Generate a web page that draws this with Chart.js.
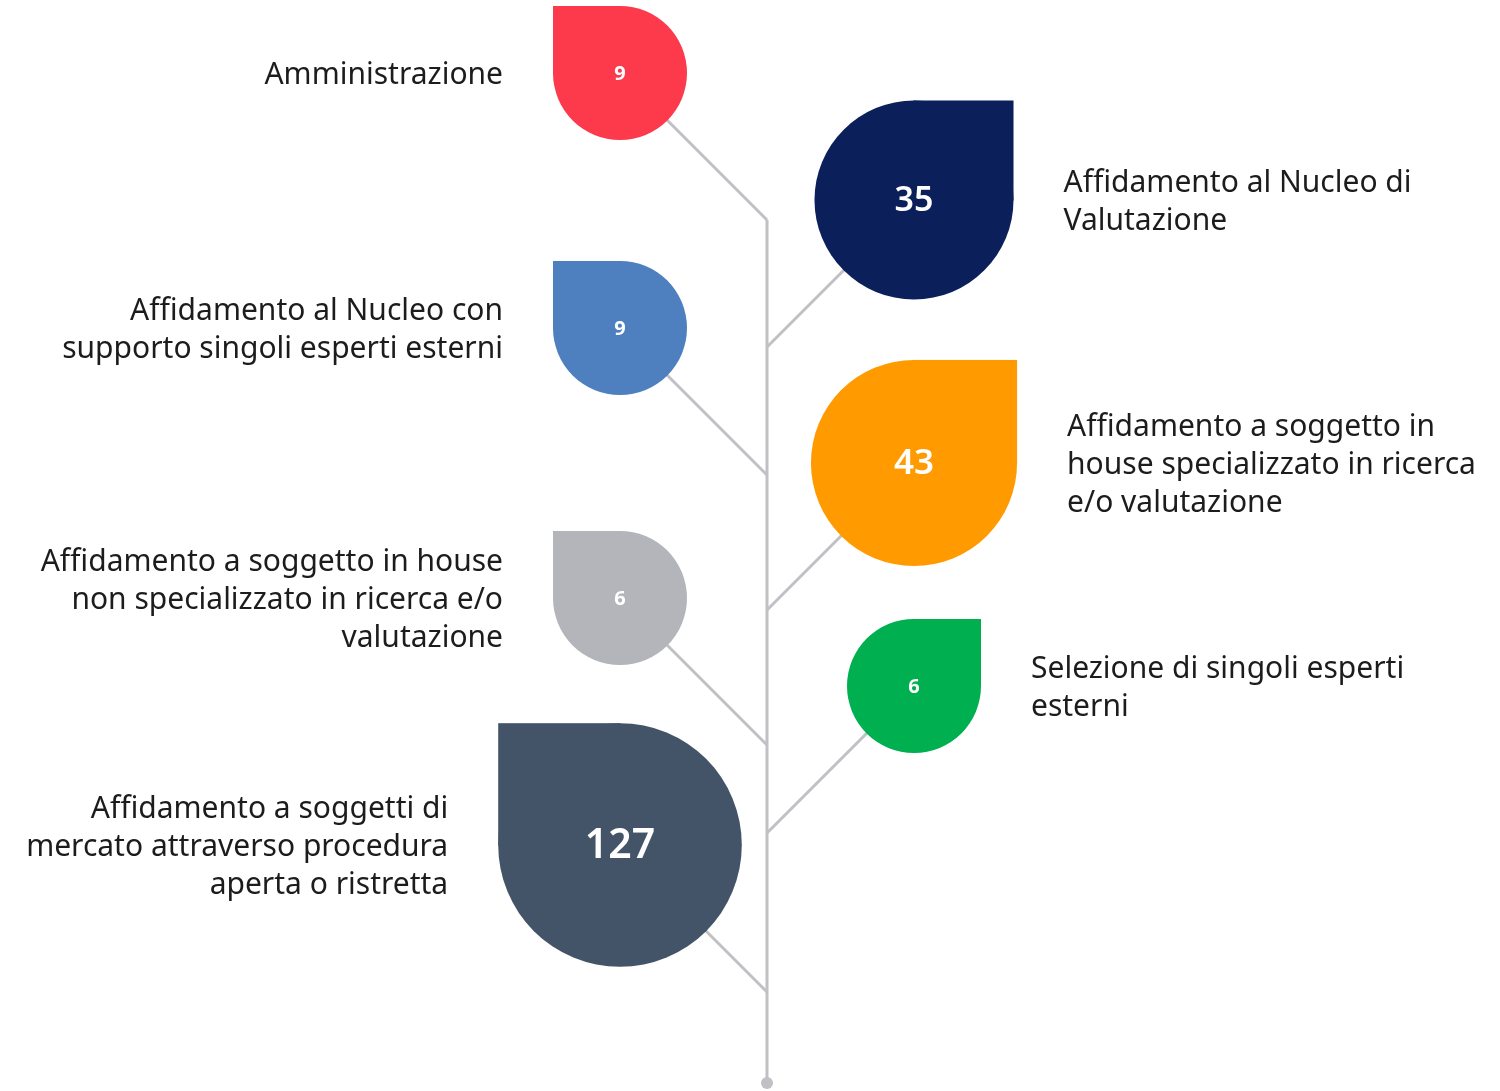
<!DOCTYPE html>
<html>
<head>
<meta charset="utf-8">
<script src="https://cdn.jsdelivr.net/npm/chart.js@4"></script>
<style>
  html, body { margin: 0; padding: 0; background: #fff; }
  canvas { display: block; }
</style>
</head>
<body>
<canvas id="chart" width="1500" height="1091"></canvas>
<script>
// categories (already broken into lines as in the original)
const categories = [
  ["Amministrazione"],
  ["Affidamento al Nucleo di", "Valutazione"],
  ["Affidamento al Nucleo con", "supporto singoli esperti esterni"],
  ["Affidamento a soggetto in", "house specializzato in ricerca", "e/o valutazione"],
  ["Affidamento a soggetto in house", "non specializzato in ricerca e/o", "valutazione"],
  ["Selezione di singoli esperti", "esterni"],
  ["Affidamento a soggetti di", "mercato attraverso procedura", "aperta o ristretta"]
];
const values = [9, 35, 9, 43, 6, 6, 127];

// styles
const colors = ["#fc3a4c", "#0b1f5b", "#4e7fbe", "#ff9a00", "#b3b5ba", "#00af50", "#435468"];
const stemColor = "#c0c0c5";
const textColor = "#1c1c1c";

// layout of the "tree"
const stemX = 767;
const arm = 147;
const rowY = [73, 200, 328, 463, 598, 686, 845];
const stemTop = 220, stemBottom = 1083;

function radiusFor(v) {
  return v < 10 ? 67 : 38 + 17.3 * Math.log(v);
}
function sideOf(i) { return i % 2 === 0 ? -1 : 1; }

const bubbles = values.map((v, i) => ({
  x: stemX + sideOf(i) * arm,
  y: rowY[i],
  r: radiusFor(v)
}));

const branchSets = values.map((v, i) => ({
  type: "line",
  order: 2,
  data: [{ x: stemX + sideOf(i) * arm, y: rowY[i] }, { x: stemX, y: rowY[i] + arm }],
  borderColor: stemColor,
  borderWidth: 3,
  pointRadius: 0,
  clip: false
}));

const teardrop = {
  id: "teardrop",
  afterDatasetsDraw(chart) {
    const ctx = chart.ctx;
    const meta = chart.getDatasetMeta(0);
    meta.data.forEach((el, i) => {
      const r = el.options.radius;
      const x = el.x, y = el.y;
      ctx.save();
      ctx.fillStyle = colors[i];
      // square corner on the side away from the stem
      if (sideOf(i) < 0) ctx.fillRect(x - r, y - r, r + 0.5, r + 0.5);
      else ctx.fillRect(x - 0.5, y - r, r + 0.5, r + 0.5);

      // value
      const fs = r < 70 ? 20 : Math.round(r * 0.34);
      ctx.fillStyle = "#ffffff";
      ctx.font = (r < 70 ? "bold " : "600 ") + fs + "px 'Noto Sans', sans-serif";
      ctx.textAlign = "center";
      ctx.textBaseline = "middle";
      ctx.fillText(String(values[i]), x, y + 1);

      // category label
      const lines = categories[i];
      const lh = 38;
      ctx.fillStyle = textColor;
      ctx.font = "30px 'Noto Sans', sans-serif";
      const tx = sideOf(i) < 0 ? x - r - 50 : x + r + 50;
      ctx.textAlign = sideOf(i) < 0 ? "right" : "left";
      const y0 = y + 2 - (lines.length - 1) * lh / 2;
      lines.forEach((t, k) => ctx.fillText(t, tx, y0 + k * lh));
      ctx.restore();
    });
  }
};

new Chart(document.getElementById("chart"), {
  type: "bubble",
  data: {
    datasets: [
      {
        order: 0,
        data: bubbles,
        backgroundColor: colors,
        borderWidth: 0,
        hoverRadius: 0,
        clip: false
      },
      {
        type: "line",
        order: 1,
        data: [{ x: stemX, y: stemTop }, { x: stemX, y: stemBottom }],
        borderColor: stemColor,
        borderWidth: 3,
        pointRadius: [0, 6],
        pointBackgroundColor: stemColor,
        pointBorderWidth: 0,
        clip: false
      },
      ...branchSets
    ]
  },
  plugins: [teardrop],
  options: {
    responsive: false,
    animation: false,
    layout: { padding: 0, autoPadding: false },
    plugins: { legend: { display: false }, tooltip: { enabled: false } },
    scales: {
      x: { type: "linear", min: 0, max: 1500, display: false },
      y: { type: "linear", min: 0, max: 1091, reverse: true, display: false }
    }
  }
});
</script>
</body>
</html>
